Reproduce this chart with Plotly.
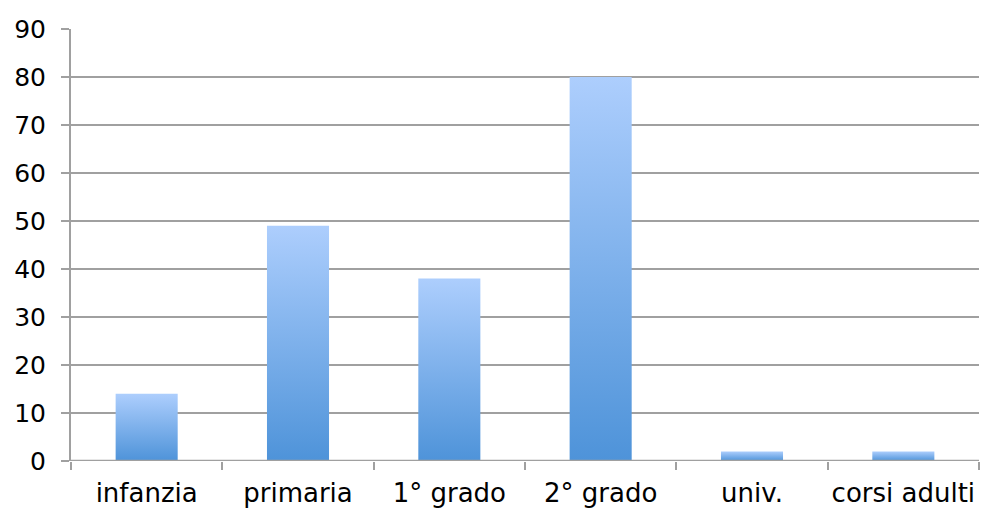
import plotly.graph_objects as go

categories = ["infanzia", "primaria", "1° grado", "2° grado", "univ.", "corsi adulti"]
values = [14, 49, 38, 80, 2, 2]
y_ticks = [0, 10, 20, 30, 40, 50, 60, 70, 80, 90]

BAR_HALF = 0.205
GRID = "#a0a0a0"
FONT = "DejaVu Sans"

fig = go.Figure()
for i, (cat, v) in enumerate(zip(categories, values)):
    fig.add_trace(go.Scatter(
        x=[i - BAR_HALF, i + BAR_HALF, i + BAR_HALF, i - BAR_HALF, i - BAR_HALF],
        y=[0, 0, v, v, 0],
        mode="lines",
        fill="toself",
        line=dict(width=0, color="rgba(0,0,0,0)"),
        fillgradient=dict(type="vertical",
                          colorscale=[[0, "#4e93d9"], [1, "#adcefd"]]),
        name=cat,
        hoverinfo="skip",
        showlegend=False,
    ))

fig.update_layout(
    width=981, height=512,
    margin=dict(l=71, r=2, t=29, b=51, autoexpand=False),
    paper_bgcolor="white", plot_bgcolor="white",
    font=dict(family=FONT, size=25, color="black"),
    showlegend=False,
)
fig.update_xaxes(
    range=[-0.5, len(categories) - 0.5],
    tickvals=list(range(len(categories))),
    ticktext=categories,
    ticks="",
    showgrid=False, zeroline=False,
    showline=False,
    tickfont=dict(family=FONT, size=26),
    ticklabelstandoff=14,
    minor=dict(tickvals=[i - 0.5 for i in range(len(categories) + 1)],
               ticks="outside", ticklen=8, tickwidth=2, tickcolor=GRID,
               showgrid=False),
    fixedrange=True,
)
fig.update_yaxes(
    range=[0, 90],
    tickvals=y_ticks,
    ticks="outside", ticklen=8, tickwidth=2, tickcolor=GRID,
    showgrid=True, gridcolor=GRID, gridwidth=2,
    zeroline=False,
    showline=True, linecolor=GRID, linewidth=2,
    tickfont=dict(family=FONT, size=25),
    ticklabelstandoff=10,
    fixedrange=True,
)
fig.add_hline(y=0, line=dict(color=GRID, width=2.5), layer="above")

fig.write_html("out.html", config={"displayModeBar": False},
               post_script="document.body.style.margin='0';")
